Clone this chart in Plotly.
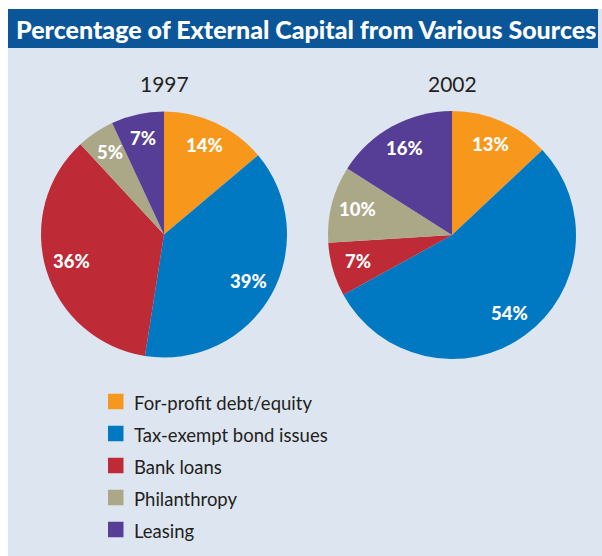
import math
import plotly.graph_objects as go

W, H = 602, 556

categories = ["For-profit debt/equity", "Tax-exempt bond issues", "Bank loans", "Philanthropy", "Leasing"]
colors = ["#f7981d", "#0079c2", "#be2a36", "#aba887", "#563d96"]
values_1997 = [14, 39, 36, 5, 7]
values_2002 = [13, 54, 7, 10, 16]
years = ["1997", "2002"]

FONT = "Lato, sans-serif"
DARK = "#231f20"

# pie geometry in pixels (center x, center y, radius)
pies = [(164, 234.5, 123), (452, 235, 124)]

def px_x(x):
    return x / W

def px_y(y):
    return 1 - y / H

fig = go.Figure()
annotations = []
for (cx, cy, r), vals, yr in zip(pies, [values_1997, values_2002], years):
    fig.add_trace(go.Pie(
        labels=categories, values=vals, sort=False, direction="clockwise", rotation=0,
        marker=dict(colors=colors, line=dict(width=0)),
        textinfo="none", hoverinfo="label+value", showlegend=False,
        domain=dict(x=[px_x(cx - r), px_x(cx + r)], y=[px_y(cy + r), px_y(cy - r)]),
    ))
    total = sum(vals)
    cum = 0
    for v in vals:
        mid = (cum + v / 2) / total * 2 * math.pi
        cum += v
        rr = 0.79 * r
        tx = cx + rr * math.sin(mid)
        ty = cy - rr * math.cos(mid)
        annotations.append(dict(
            x=px_x(tx), y=px_y(ty - 1.5), xref="paper", yref="paper", text=f"{v}%",
            showarrow=False, font=dict(family=FONT, size=18.5, color="white", weight=900),
            xanchor="center", yanchor="middle"))
    annotations.append(dict(
        x=px_x(cx), y=px_y(84), xref="paper", yref="paper", text=yr, showarrow=False,
        font=dict(family=FONT, size=21, color=DARK), xanchor="center", yanchor="middle"))

shapes = [
    dict(type="rect", xref="paper", yref="paper", x0=px_x(8), x1=1, y0=0, y1=px_y(9),
         fillcolor="#dde5f0", line=dict(width=0), layer="below"),
    dict(type="rect", xref="paper", yref="paper", x0=px_x(8), x1=px_x(598), y0=px_y(48), y1=px_y(9),
         fillcolor="#0a5699", line=dict(width=0), layer="below"),
]

annotations.append(dict(
    x=px_x(306), y=px_y(29), xref="paper", yref="paper",
    text="Percentage of External Capital from Various Sources", showarrow=False,
    font=dict(family=FONT, size=25, color="white", weight=900), xanchor="center", yanchor="middle"))

row_y = [401.5, 433.5, 465.5, 497.5, 529.5]
for cat, col, yy in zip(categories, colors, row_y):
    shapes.append(dict(type="rect", xref="paper", yref="paper", x0=px_x(108), x1=px_x(123.5),
                       y0=px_y(yy + 7.75), y1=px_y(yy - 7.75), fillcolor=col, line=dict(width=0)))
    annotations.append(dict(x=px_x(132), y=px_y(yy + 1), xref="paper", yref="paper", text=cat,
                            showarrow=False, font=dict(family=FONT, size=18.5, color=DARK),
                            xanchor="left", yanchor="middle"))

fig.update_layout(
    width=W, height=H, margin=dict(l=0, r=0, t=0, b=0),
    paper_bgcolor="white", plot_bgcolor="white",
    shapes=shapes, annotations=annotations, showlegend=False,
)
fig.write_html("out.html")
